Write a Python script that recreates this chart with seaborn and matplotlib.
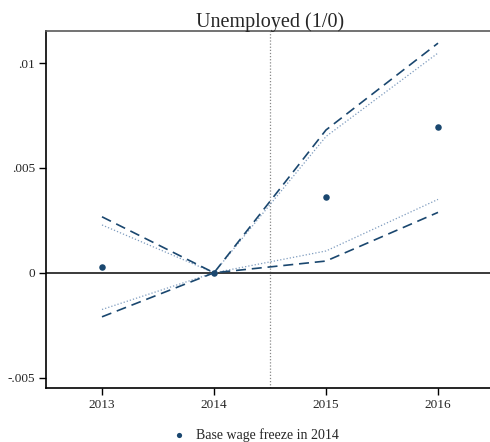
import matplotlib
matplotlib.use("Agg")
import matplotlib.pyplot as plt
import seaborn as sns
import pandas as pd

years = [2013, 2014, 2015, 2016]
estimate = [0.00029, 0.0, 0.00363, 0.00697]
ci95_upper = [0.00267, 0.0, 0.00681, 0.01095]
ci95_lower = [-0.0021, 0.0, 0.00056, 0.00288]
ci90_upper = [0.00228, 0.0, 0.0065, 0.01048]
ci90_lower = [-0.00175, 0.0, 0.00104, 0.0035]
y_ticks = [-0.005, 0, 0.005, 0.01]
y_tick_labels = ["-.005", "0", ".005", ".01"]

sns.set_theme(style="white")
plt.rcParams["font.family"] = ["Liberation Serif", "DejaVu Serif"]

navy = "#1a476f"
light = "#7f9cbf"

df = pd.DataFrame({
    "year": years,
    "est": estimate,
    "u95": ci95_upper,
    "l95": ci95_lower,
    "u90": ci90_upper,
    "l90": ci90_lower,
})

fig = plt.figure(figsize=(4.9, 4.42), dpi=100)
ax = fig.add_axes([46 / 490, 54.3 / 442, 448 / 490, 356.7 / 442])

ax.axvline(2014.5, color="#888888", lw=0.9, ls=(0, (1, 1.5)), zorder=1)
ax.axhline(0, color="#3a3a3a", lw=1.4, zorder=1)

for col in ["u90", "l90"]:
    sns.lineplot(data=df, x="year", y=col, ax=ax, color=light, lw=0.9,
                 linestyle=(0, (1, 1.6)), legend=False, zorder=2)
for col in ["u95", "l95"]:
    sns.lineplot(data=df, x="year", y=col, ax=ax, color=navy, lw=1.2,
                 linestyle=(0, (6, 3.5)), legend=False, zorder=3)

sns.scatterplot(data=df, x="year", y="est", ax=ax, color=navy, s=22,
                edgecolor=navy, linewidth=0, zorder=4,
                label="Base wage freeze in 2014")

ax.set_xlim(2012.5, 2016.5)
ax.set_ylim(-0.00548, 0.01153)
ax.set_xticks(years)
ax.set_xticklabels([str(y) for y in years], fontsize=9.5)
ax.set_yticks(y_ticks)
ax.set_yticklabels(y_tick_labels, fontsize=9.5)
ax.set_xlabel("")
ax.set_ylabel("")
ax.tick_params(axis="both", direction="out", length=5, width=1, color="black",
               bottom=True, left=True, pad=3)

for side in ["left", "bottom"]:
    ax.spines[side].set_color("black")
    ax.spines[side].set_linewidth(1.2)
ax.spines["top"].set_color("#5a5a5a")
ax.spines["top"].set_linewidth(1.2)
ax.spines["right"].set_visible(False)

ax.set_title("Unemployed (1/0)", fontsize=14.5, pad=3)

handles, labels = ax.get_legend_handles_labels()
ax.legend_.remove()
fig.legend(handles, labels, loc="center", bbox_to_anchor=(0.514, 0.016),
           frameon=False, fontsize=10, handletextpad=0.2, markerscale=0.8)

fig.savefig("out.png", dpi=100)
